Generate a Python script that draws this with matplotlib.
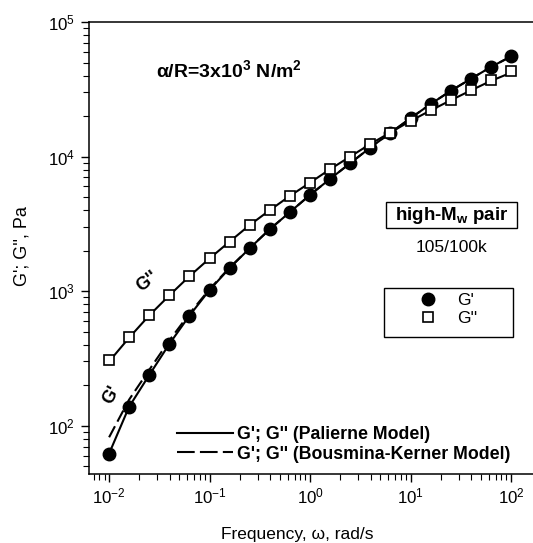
import numpy as np
import matplotlib.pyplot as plt
from matplotlib.ticker import LogLocator, NullFormatter, FixedLocator
from matplotlib.lines import Line2D
from matplotlib.patches import Rectangle

plt.rcParams['font.family'] = ['Liberation Sans', 'DejaVu Sans']
plt.rcParams['mathtext.default'] = 'regular'

# data
freq = [0.01, 0.0158, 0.0251, 0.0398, 0.063, 0.1, 0.158, 0.251, 0.398, 0.63,
        1.0, 1.58, 2.51, 3.98, 6.3, 10, 15.8, 25.1, 39.8, 63, 100]
g1 = [62, 138, 238, 405, 657, 1020, 1480, 2085, 2885, 3865,
      5190, 6820, 8930, 11670, 14940, 19290, 24540, 30800, 37800, 46300, 55500]
g2 = [306, 459, 665, 937, 1297, 1758, 2335, 3105, 4015, 5100,
      6410, 8050, 10000, 12430, 15080, 18400, 22200, 26400, 31300, 36900, 42900]

# model curves
pal_g1 = [62, 138, 238, 405, 657, 1020, 1480, 2085, 2885, 3865,
          5190, 6820, 8930, 11670, 15000, 19290, 24540, 30800, 37800, 46300, 55500]
pal_g2 = [300, 450, 660, 930, 1290, 1750, 2330, 3100, 4000, 5100,
          6400, 8050, 10000, 12400, 15100, 18400, 22000, 26200, 31000, 36500, 42000]
bk_g1 = [82, 156, 260, 430, 680, 1035, 1495, 2090, 2890, 3865,
         5190, 6820, 8930, 11670, 15000, 19290, 24540, 30800, 37800, 46300, 55500]

xticks = [0.01, 0.1, 1, 10, 100]
xlabels = ['$10^{-2}$', '$10^{-1}$', '$10^{0}$', '$10^{1}$', '$10^{2}$']
yticks = [100, 1000, 10000, 100000]
ylabels = ['$10^{2}$', '$10^{3}$', '$10^{4}$', '$10^{5}$']

W, H = 533, 543
fig = plt.figure(figsize=(W / 100, H / 100), dpi=100)
ax = fig.add_axes([89 / W, 1 - 474 / H, (545 - 89) / W, (474 - 22) / H])

def fx(px):
    return px / W

def fy(py):
    return 1 - py / H

ax.plot(freq, pal_g1, '-', color='black', lw=1.5)
ax.plot(freq, pal_g2, '-', color='black', lw=1.5)
ax.plot(freq, bk_g1, color='black', lw=1.5, dashes=(6, 2.5))
ax.plot(freq, g1, 'o', color='black', ms=9, label="G'")
ax.plot(freq, g2, 's', mfc='white', mec='black', mew=1.2, ms=7, label="G''")

ax.set_xscale('log')
ax.set_yscale('log')
ax.set_xlim(10 ** -2.2, 10 ** (2 + 34 / 100.7))
ax.set_ylim(10 ** (2 - 48.3 / 134.5), 1e5)

ax.spines['right'].set_visible(False)
for s in ['top', 'left', 'bottom']:
    ax.spines[s].set_linewidth(1.1)

ax.xaxis.set_major_locator(FixedLocator(xticks))
ax.set_xticklabels(xlabels)
ax.yaxis.set_major_locator(FixedLocator(yticks))
ax.set_yticklabels(ylabels)
ax.xaxis.set_minor_locator(LogLocator(base=10, subs=np.arange(2, 10)))
ax.yaxis.set_minor_locator(LogLocator(base=10, subs=np.arange(2, 10)))
ax.xaxis.set_minor_formatter(NullFormatter())
ax.yaxis.set_minor_formatter(NullFormatter())
ax.tick_params(which='major', direction='out', length=6, width=1.0, labelsize=12.2)
ax.tick_params(axis='x', which='major', pad=3)
ax.tick_params(axis='y', which='major', pad=4)
ax.tick_params(which='minor', direction='out', length=4, width=0.8)
ax.tick_params(axis='x', which='both', top=False)
ax.tick_params(axis='y', which='both', right=False)

fig.text(fx(22), fy(246), "G'; G'', Pa", rotation=90, ha='center', va='center', fontsize=13)
fig.text(fx(297), fy(535), 'Frequency, \u03c9, rad/s', ha='center', va='center', fontsize=12.5)

fig.text(fx(229), fy(70), '\u03b1/R=3x10$^{3}$ N/m$^{2}$', ha='center', va='center',
         fontsize=14, fontweight='bold')

fig.patches.append(Rectangle((fx(386), fy(228)), (517 - 386) / W, 26 / H,
                             transform=fig.transFigure, fill=False, ec='black', lw=1.0))
fig.text(fx(451.5), fy(215), 'high-M$_{w}$ pair', ha='center', va='center',
         fontsize=13.5, fontweight='bold')
fig.text(fx(451.5), fy(248), '105/100k', ha='center', va='center', fontsize=12.5)

fig.text(fx(147), fy(282), "G''", rotation=38, ha='center', va='center',
         fontsize=13, fontweight='bold')
fig.text(fx(112), fy(395), "G'", rotation=62, ha='center', va='center',
         fontsize=13, fontweight='bold')

# marker legend with its own frame
fig.patches.append(Rectangle((fx(384), fy(337)), (513 - 384) / W, (337 - 288) / H,
                             transform=fig.transFigure, fill=False, ec='black', lw=1.0))
leg1 = ax.legend(loc='upper left', bbox_to_anchor=(fx(415), fy(293)),
                 bbox_transform=fig.transFigure, frameon=False, fontsize=12.5,
                 borderpad=0, borderaxespad=0, handlelength=1.5, handletextpad=0.9,
                 labelspacing=0.15)
ax.add_artist(leg1)

h_sol = Line2D([], [], color='black', lw=1.5)
h_das = Line2D([], [], color='black', lw=1.5, dashes=(8.5, 2.5))
ax.legend([h_sol, h_das], ["G'; G'' (Palierne Model)", "G'; G'' (Bousmina-Kerner Model)"],
          loc='upper left', bbox_to_anchor=(fx(177), fy(426)),
          bbox_transform=fig.transFigure, frameon=False,
          prop={'weight': 'bold', 'size': 12.8}, borderpad=0, borderaxespad=0,
          handlelength=3.15, handletextpad=0.25, labelspacing=0.15)

fig.savefig('out.png', dpi=100)
